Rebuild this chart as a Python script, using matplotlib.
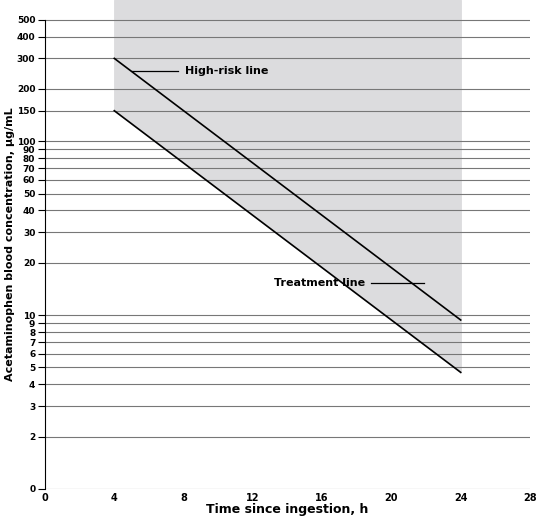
import matplotlib.pyplot as plt
import numpy as np

plt.rcParams["font.family"] = ["Liberation Sans Narrow", "DejaVu Sans"]
plt.rcParams["font.weight"] = "bold"
plt.rcParams["axes.labelweight"] = "bold"

yticks = [1, 2, 3, 4, 5, 6, 7, 8, 9, 10, 20, 30, 40, 50, 60, 70, 80, 90, 100, 150, 200, 300, 400, 500]
ylabels = ["0"] + [str(v) for v in yticks[1:]]
xticks = [0, 4, 8, 12, 16, 20, 24, 28]

hours = [4, 24]
high_risk = [300, 9.375]
treatment = [150, 4.6875]

fig = plt.figure(figsize=(5.37, 5.24), dpi=100)
ax = fig.add_axes([45 / 537, 35 / 524, 485 / 537, 489 / 524])
ax.set_yscale("log")
ax.set_xlim(0, 28)
ax.set_ylim(1, 650)

ax.fill_between(hours, treatment, [650, 650], color="#dcdcde", zorder=0)
for v in yticks:
    ax.axhline(v, color="#777777", lw=0.8, zorder=1)
ax.plot(hours, high_risk, color="black", lw=1.2, zorder=3)
ax.plot(hours, treatment, color="black", lw=1.2, zorder=3)

ax.plot([5, 7.7], [255, 255], color="black", lw=0.9)
ax.text(8.1, 255, "High-risk line", fontsize=8, va="center")
ax.plot([18.8, 21.9], [15.3, 15.3], color="black", lw=0.9)
ax.text(18.5, 15.3, "Treatment line", fontsize=8, va="center", ha="right")

ax.set_yticks(yticks)
ax.set_yticklabels(ylabels, fontsize=6.5)
ax.minorticks_off()
ax.set_xticks(xticks)
ax.set_xticklabels([str(v) for v in xticks], fontsize=7)
ax.tick_params(axis="x", length=0, pad=3)
ax.tick_params(axis="y", length=5, pad=2)
for s in ["top", "right", "bottom"]:
    ax.spines[s].set_visible(False)
ax.spines["left"].set_bounds(1, 500)
ax.set_xlabel("Time since ingestion, h", fontsize=9, labelpad=0)
ax.set_ylabel("Acetaminophen blood concentration, µg/mL", fontsize=8, labelpad=1)

fig.savefig("out.png", dpi=100)
